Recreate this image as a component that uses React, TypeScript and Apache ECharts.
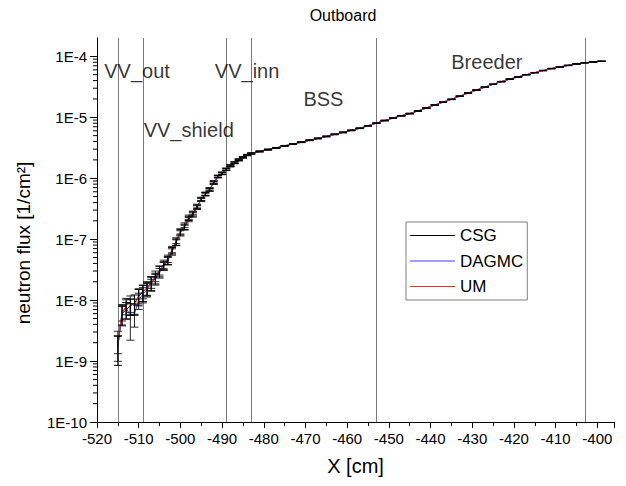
import React, { useEffect, useRef } from "react";
import * as echarts from "echarts";

// ---------- data ----------
const xMin = -520;
const xMax = -396;
const yMin = 1e-10;
const yMax = 2e-4;

const seriesNames = ["CSG", "DAGMC", "UM"];
const seriesColors = ["#000000", "#3c3cff", "#ff2a2a"];

// 1 cm bins in the steep region (VV), 2 cm bins further in
const xSteep = [
  -515, -514, -513, -512, -511, -510, -509, -508, -507, -506, -505, -504, -503, -502, -501, -500, -499,
  -498, -497, -496, -495, -494, -493, -492, -491, -490, -489, -488, -487, -486, -485, -484, -483,
];
const xSmooth = [
  -481, -479, -477, -475, -473, -471, -469, -467, -465, -463, -461, -459, -457, -455, -453, -451, -449,
  -447, -445, -443, -441, -439, -437, -435, -433, -431, -429, -427, -425, -423, -421, -419, -417, -415,
  -413, -411, -409, -407, -405, -403, -401, -399,
];

const csgSteep = [
  1.7e-9, 6.0e-9, 7.0e-9, 8.0e-9, 9.0e-9, 1.15e-8, 1.35e-8, 1.6e-8, 1.9e-8, 2.3e-8, 3.0e-8, 3.7e-8, 4.5e-8,
  6.5e-8, 9.0e-8, 1.3e-7, 1.6e-7, 2.2e-7, 2.6e-7, 3.4e-7, 4.5e-7, 5.5e-7, 6.5e-7, 8.5e-7, 1.07e-6, 1.2e-6,
  1.4e-6, 1.6e-6, 1.8e-6, 2.0e-6, 2.2e-6, 2.4e-6, 2.55e-6,
];
const dagmcSteep = [
  1.8e-9, 6.5e-9, 7.5e-9, 5.5e-9, 6.0e-9, 1.0e-8, 1.25e-8, 1.5e-8, 2.0e-8, 2.2e-8, 2.8e-8, 3.9e-8, 4.8e-8,
  6.2e-8, 9.5e-8, 1.25e-7, 1.7e-7, 2.1e-7, 2.7e-7, 3.3e-7, 4.6e-7, 5.4e-7, 6.7e-7, 8.3e-7, 1.05e-6, 1.22e-6,
  1.38e-6, 1.62e-6, 1.78e-6, 2.02e-6, 2.18e-6, 2.42e-6, 2.54e-6,
];
const umSteep = [
  2.2e-9, 5.8e-9, 8.2e-9, 9.0e-9, 8.0e-9, 1.2e-8, 1.4e-8, 1.55e-8, 1.8e-8, 2.5e-8, 3.1e-8, 3.6e-8, 4.4e-8,
  6.8e-8, 8.8e-8, 1.35e-7, 1.55e-7, 2.3e-7, 2.5e-7, 3.5e-7, 4.4e-7, 5.6e-7, 6.4e-7, 8.7e-7, 1.08e-6, 1.19e-6,
  1.41e-6, 1.58e-6, 1.82e-6, 1.98e-6, 2.21e-6, 2.39e-6, 2.56e-6,
];
const fluxSmooth = [
  2.75e-6, 2.95e-6, 3.15e-6, 3.4e-6, 3.63e-6, 3.9e-6, 4.2e-6, 4.5e-6, 4.85e-6, 5.25e-6, 5.65e-6, 6.1e-6,
  6.6e-6, 7.25e-6, 8.0e-6, 8.85e-6, 9.7e-6, 1.06e-5, 1.15e-5, 1.27e-5, 1.42e-5, 1.59e-5, 1.77e-5, 1.97e-5,
  2.22e-5, 2.5e-5, 2.8e-5, 3.12e-5, 3.48e-5, 3.85e-5, 4.22e-5, 4.6e-5, 5.0e-5, 5.4e-5, 5.85e-5, 6.3e-5,
  6.7e-5, 7.1e-5, 7.5e-5, 7.85e-5, 8.1e-5, 8.3e-5,
];

// relative statistical errors
const csgErrSteep = [
  0.5, 0.35, 0.3, 0.3, 0.35, 0.3, 0.3, 0.25, 0.25, 0.2, 0.2, 0.15, 0.15, 0.12, 0.12, 0.1, 0.1, 0.08, 0.08,
  0.07, 0.06, 0.06, 0.05, 0.05, 0.04, 0.04, 0.04, 0.03, 0.03, 0.03, 0.02, 0.02, 0.02,
];
const dagmcErrSteep = [
  0.45, 0.3, 0.35, 0.6, 0.4, 0.3, 0.28, 0.25, 0.22, 0.2, 0.18, 0.16, 0.14, 0.12, 0.11, 0.1, 0.09, 0.08, 0.07,
  0.07, 0.06, 0.05, 0.05, 0.05, 0.04, 0.04, 0.03, 0.03, 0.03, 0.03, 0.02, 0.02, 0.02,
];
const umErrSteep = [
  0.4, 0.35, 0.3, 0.3, 0.3, 0.28, 0.25, 0.25, 0.22, 0.2, 0.17, 0.15, 0.14, 0.12, 0.11, 0.1, 0.09, 0.08, 0.08,
  0.07, 0.06, 0.06, 0.05, 0.05, 0.04, 0.04, 0.04, 0.03, 0.03, 0.03, 0.02, 0.02, 0.02,
];
const errSmooth = [
  0.015, 0.015, 0.014, 0.014, 0.013, 0.013, 0.012, 0.012, 0.011, 0.011, 0.011, 0.01, 0.01, 0.01, 0.01, 0.009,
  0.009, 0.009, 0.009, 0.009, 0.008, 0.008, 0.008, 0.008, 0.008, 0.008, 0.007, 0.007, 0.007, 0.007, 0.007,
  0.007, 0.007, 0.006, 0.006, 0.006, 0.006, 0.006, 0.006, 0.006, 0.006, 0.006,
];

// region boundaries and region names
const boundaries = [-515, -509, -489, -483, -453, -403];
const regionNames = ["VV_out", "VV_inn", "VV_shield", "BSS", "Breeder"];
const regionX = [-510.4, -484.0, -498.0, -465.7, -426.5];
const regionY = [5.7e-5, 5.7e-5, 6.3e-6, 2.0e-5, 8.0e-5];

const titleText = "Outboard";
const xName = "X [cm]";
const yName = "neutron flux [1/cm²]";

// ---------- helpers ----------
const FONT = "'Liberation Sans', Arial, sans-serif";

const xAll = [...xSteep, ...xSmooth];
const fluxBySeries = [
  [...csgSteep, ...fluxSmooth],
  [...dagmcSteep, ...fluxSmooth],
  [...umSteep, ...fluxSmooth],
];
const errBySeries = [
  [...csgErrSteep, ...errSmooth],
  [...dagmcErrSteep, ...errSmooth],
  [...umErrSteep, ...errSmooth],
];

// log minor tick positions (2..9 x 10^n)
const yMinorTicks: number[] = [];
for (let n = -10; n <= -4; n++) {
  for (let k = 2; k <= 9; k++) {
    const v = k * Math.pow(10, n);
    if (v < yMax) yMinorTicks.push(v);
  }
}

function errorBarSeries(idx: number) {
  const ys = fluxBySeries[idx];
  const es = errBySeries[idx];
  const color = idx === 0 ? "#000000" : "#2a2a2a";
  return {
    type: "custom",
    name: seriesNames[idx] + " error",
    silent: true,
    z: 8 + (2 - idx),
    data: xAll.map((x, i) => [x, ys[i] * (1 - es[i]), ys[i] * (1 + es[i])]),
    encode: { x: 0, y: [1, 2] },
    renderItem: (params: any, api: any) => {
      const x = api.value(0);
      const lo = api.coord([x, api.value(1)]);
      const hi = api.coord([x, api.value(2)]);
      const hw = 4;
      const style = { stroke: color, lineWidth: 1 };
      return {
        type: "group",
        children: [
          { type: "line", shape: { x1: lo[0], y1: lo[1], x2: hi[0], y2: hi[1] }, style },
          { type: "line", shape: { x1: lo[0] - hw, y1: lo[1], x2: lo[0] + hw, y2: lo[1] }, style },
          { type: "line", shape: { x1: hi[0] - hw, y1: hi[1], x2: hi[0] + hw, y2: hi[1] }, style },
        ],
      };
    },
  };
}

function lineSeries(idx: number) {
  const ys = fluxBySeries[idx];
  const s: any = {
    type: "line",
    name: seriesNames[idx],
    data: xAll.map((x, i) => [x, ys[i]]),
    symbol: "none",
    showSymbol: false,
    z: 4 + idx,
    lineStyle: { color: seriesColors[idx], width: 1 },
    itemStyle: { color: seriesColors[idx] },
    silent: true,
  };
  if (idx === 0) {
    s.markLine = {
      silent: true,
      symbol: ["none", "none"],
      label: { show: false },
      lineStyle: { color: "#7a7a7a", type: "solid", width: 1 },
      data: boundaries.map((b) => ({ xAxis: b })),
      z: 1,
    };
  }
  return s;
}

export default function App() {
  const ref = useRef<HTMLDivElement>(null);
  useEffect(() => {
    if (!ref.current) return;
    const chart = echarts.init(ref.current, null, { renderer: "svg" });
    const option: any = {
      animation: false,
      backgroundColor: "#ffffff",
      textStyle: { fontFamily: FONT, color: "#000" },
      grid: { left: 97, right: 12, top: 38, bottom: 64, containLabel: false },
      graphic: [
        {
          type: "text",
          x: 343,
          y: 7,
          style: { text: titleText, fill: "#000", font: `16px ${FONT}`, textAlign: "center" },
        },
      ],
      legend: {
        orient: "vertical",
        left: 406,
        top: 222,
        data: seriesNames.map((n) => ({ name: n, icon: "rect" })),
        itemWidth: 45,
        itemHeight: 1,
        itemGap: 8.5,
        borderColor: "#808080",
        borderWidth: 1,
        borderRadius: 0,
        padding: [5, 4, 5, 4],
        textStyle: { fontSize: 17, color: "#000", fontFamily: FONT },
      },
      xAxis: {
        type: "value",
        min: xMin,
        max: xMax,
        interval: 10,
        name: xName,
        nameLocation: "middle",
        nameGap: 34,
        nameTextStyle: { fontSize: 20, color: "#000", fontFamily: FONT },
        axisLine: { onZero: false, lineStyle: { color: "#000", width: 1 } },
        axisTick: { show: true, length: 6, lineStyle: { color: "#000" } },
        minorTick: { show: true, splitNumber: 2, length: 4, lineStyle: { color: "#000" } },
        axisLabel: { fontSize: 15, color: "#000", margin: 9, showMaxLabel: false, fontFamily: FONT },
        splitLine: { show: false },
      },
      yAxis: {
        type: "log",
        logBase: 10,
        min: yMin,
        max: yMax,
        name: yName,
        nameLocation: "middle",
        nameGap: 64,
        nameTextStyle: { fontSize: 19, color: "#000", fontFamily: FONT, padding: [0, 26, 0, 0] },
        axisLine: { show: true, lineStyle: { color: "#000", width: 1 } },
        axisTick: { show: true, length: 7, lineStyle: { color: "#000" } },
        axisLabel: {
          fontSize: 15,
          color: "#000",
          margin: 10,
          showMaxLabel: false,
          fontFamily: FONT,
          formatter: (v: number) => "1E" + Math.round(Math.log10(v)),
        },
        splitLine: { show: false },
      },
      series: [
        {
          type: "custom",
          name: "minor ticks",
          silent: true,
          clip: false,
          data: yMinorTicks.map((v) => [xMin, v]),
          encode: { x: 0, y: 1 },
          renderItem: (params: any, api: any) => {
            const p = api.coord([api.value(0), api.value(1)]);
            return {
              type: "line",
              shape: { x1: p[0] - 4, y1: p[1], x2: p[0], y2: p[1] },
              style: { stroke: "#000", lineWidth: 1 },
            };
          },
        },
        lineSeries(0),
        lineSeries(1),
        lineSeries(2),
        errorBarSeries(2),
        errorBarSeries(1),
        errorBarSeries(0),
        {
          type: "scatter",
          name: "regions",
          silent: true,
          symbolSize: 1,
          itemStyle: { color: "transparent" },
          data: regionX.map((x, i) => [x, regionY[i]]),
          label: {
            show: true,
            position: "inside",
            fontSize: 20,
            color: "#000",
            fontFamily: FONT,
            formatter: (p: any) => regionNames[p.dataIndex],
          },
          z: 12,
        },
      ],
    };
    chart.setOption(option);
    return () => chart.dispose();
  }, []);
  return (
    <div
      ref={ref}
      style={{ position: "fixed", left: 0, top: 0, width: 626, height: 486, background: "#fff" }}
    />
  );
}
